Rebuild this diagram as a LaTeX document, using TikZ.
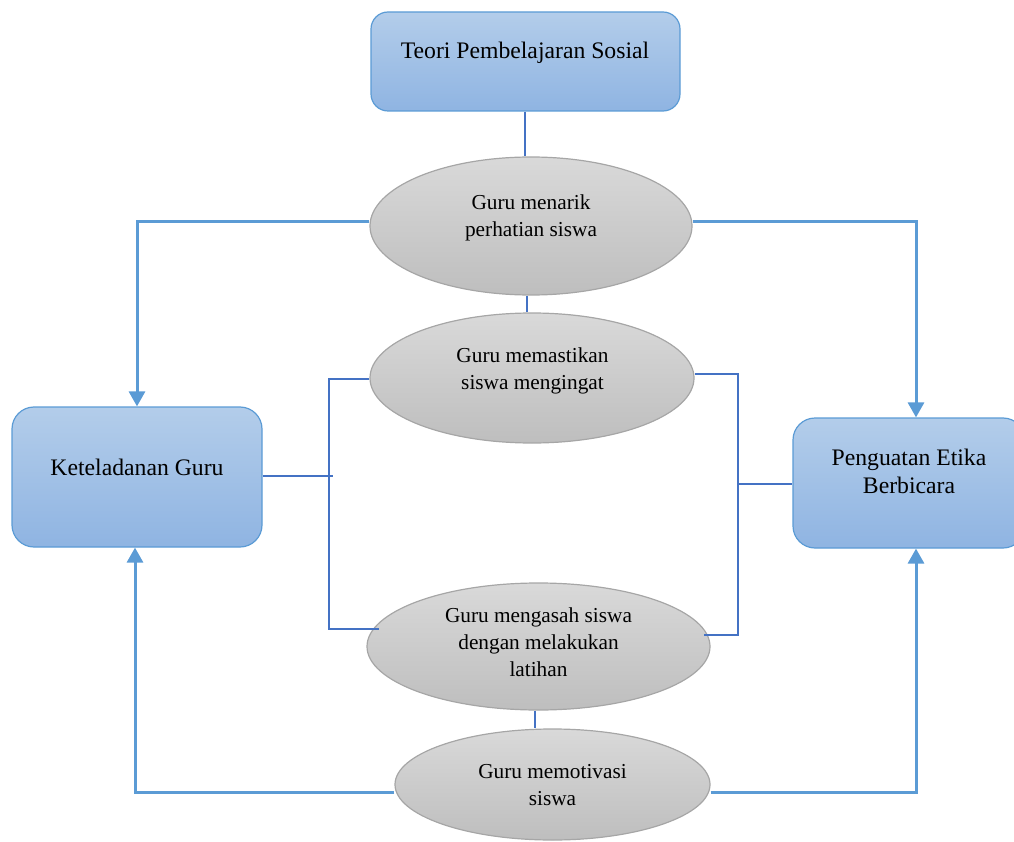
\documentclass[tikz,border=0pt]{standalone}
\usepackage{fontspec}
\setmainfont{Liberation Serif}
\usetikzlibrary{arrows.meta,shapes.geometric,calc}
\definecolor{boxtop}{HTML}{B3CDEA}
\definecolor{boxbot}{HTML}{8FB4E2}
\definecolor{boxedge}{HTML}{5B9BD5}
\definecolor{elltop}{HTML}{D9D9D9}
\definecolor{ellbot}{HTML}{BEBEBE}
\definecolor{elledge}{HTML}{A6A6A6}
\definecolor{thickblue}{HTML}{5B9BD5}
\definecolor{thinblue}{HTML}{4472C4}
\newcommand{\mlines}[1]{\begin{tabular}[t]{@{}c@{}}#1\end{tabular}}
\begin{document}
\begin{tikzpicture}[x=1pt,y=-1pt,
  rbox/.style={draw=boxedge, line width=1.2pt, top color=boxtop, bottom color=boxbot, inner sep=0pt},
  ell/.style={ellipse, draw=elledge, line width=1.2pt, top color=elltop, bottom color=ellbot, inner sep=0pt},
  btxt/.style={inner sep=0pt, anchor=base, font=\fontsize{23.7}{28}\selectfont},
  etxt/.style={inner sep=0pt, anchor=base, font=\fontsize{21.3}{27}\selectfont},
  flow/.style={draw=thickblue, line width=3pt},
  flowarrow/.style={flow, -{Triangle[width=16pt,length=15pt]}},
  link/.style={draw=thinblue, line width=1.5pt}]
\useasboundingbox (0,0) rectangle (1014,842);

% boxes
\node[rbox, rounded corners=17pt, minimum width=309pt, minimum height=99pt] (top) at (525.5,61.5) {};
\node[rbox, rounded corners=22pt, minimum width=250pt, minimum height=140pt] (left) at (137,477) {};
\node[rbox, rounded corners=22pt, minimum width=232pt, minimum height=130pt] (right) at (909,483) {};

% ellipses
\node[ell, minimum width=322pt, minimum height=138pt] (e1) at (531,226) {};
\node[ell, minimum width=324pt, minimum height=130pt] (e2) at (532,378) {};
\node[ell, minimum width=343pt, minimum height=127pt] (e3) at (538.5,646.5) {};
\node[ell, minimum width=315pt, minimum height=111pt] (e4) at (552.5,784.5) {};

% texts
\node[btxt] (ttop) at (525,59) {Teori Pembelajaran Sosial};
\node[btxt] (tleft) at (137,475) {Keteladanan Guru};
\node[btxt] (tright) at (909,465) {\mlines{Penguatan Etika\\Berbicara}};
\node[etxt] (te1) at (531,210) {\mlines{Guru menarik\\perhatian siswa}};
\node[etxt] (te2) at (532.5,362) {\mlines{Guru memastikan\\siswa mengingat}};
\node[etxt] (te3) at (538.5,622) {\mlines{Guru mengasah siswa\\dengan melakukan\\latihan}};
\node[etxt] (te4) at (552.5,778) {\mlines{Guru memotivasi\\siswa}};

% vertical thin links
\draw[link] ([xshift=-0.5pt]top.south) -- ([xshift=-0.5pt]top.south |- e1.north);
\draw[link] ([xshift=-4pt]e1.south) -- ([xshift=-4pt]e1.south |- e2.north);
\draw[link] ([xshift=-3.5pt]e3.south) -- ([xshift=-3.5pt]e3.south |- e4.north);

% left thin bracket
\coordinate (jL) at (329,476);
\coordinate (tickL) at (333,476);
\coordinate (e3L) at (379,629);
\draw[link] (left.east |- jL) -- (tickL);
\draw[link] ([yshift=-1pt]e2.west) -| (jL) |- (e3L);

% right thin bracket
\coordinate (jR) at (738,484);
\coordinate (e3R) at (704,635);
\draw[link] ([yshift=4pt]e2.east) -| (jR) |- (e3R);
\draw[link] (jR) -- (right.west |- jR);

% thick arrows
\draw[flowarrow] ([yshift=4pt]e1.west) -| (left.north);
\draw[flowarrow] ([yshift=4pt]e1.east) -| ([xshift=7pt]right.north);
\draw[flowarrow] ([yshift=-7.5pt]e4.west) -| ([xshift=-2pt]left.south);
\draw[flowarrow] ([yshift=-7.5pt]e4.east) -| ([xshift=7pt]right.south);
\end{tikzpicture}
\end{document}
